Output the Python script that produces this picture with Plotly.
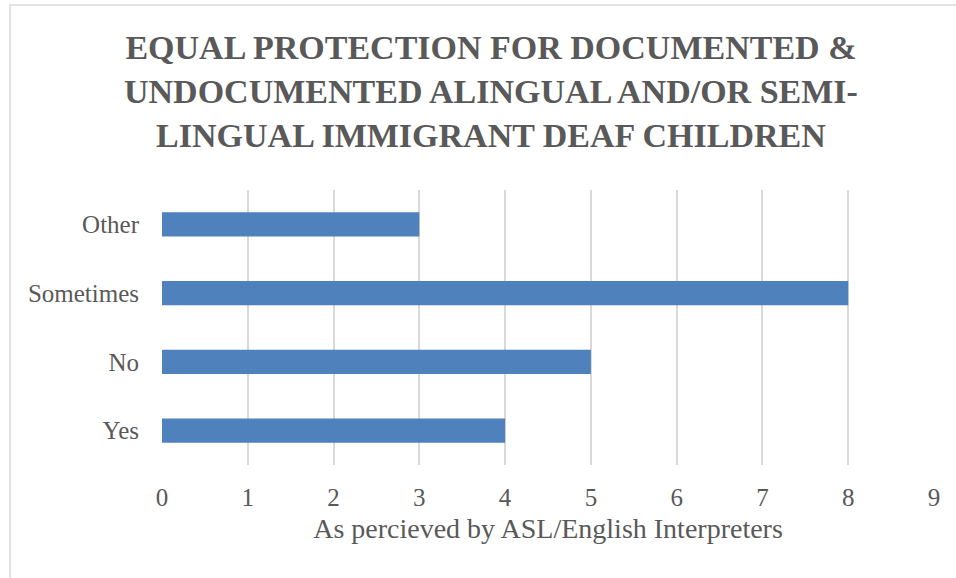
import plotly.graph_objects as go

# Survey responses (counts)
categories = ["Yes", "No", "Sometimes", "Other"]
counts = [4, 5, 8, 3]
x_ticks = [0, 1, 2, 3, 4, 5, 6, 7, 8, 9]

title_lines = [
    "EQUAL PROTECTION FOR DOCUMENTED &",
    "UNDOCUMENTED ALINGUAL AND/OR SEMI-",
    "LINGUAL IMMIGRANT DEAF CHILDREN",
]
x_title = "As percieved by ASL/English Interpreters"

TEXT = "#595959"
FONT = "Liberation Serif"

W, H = 956, 578
L, R, T, B = 162, 22, 190, 113
pw, ph = W - L - R, H - T - B

fig = go.Figure(
    go.Bar(
        x=counts,
        y=categories,
        orientation="h",
        marker=dict(color="#4F81BD", line=dict(width=0)),
        width=0.35,
        hoverinfo="x+y",
    )
)

fig.update_layout(
    width=W,
    height=H,
    margin=dict(l=L, r=R, t=T, b=B),
    paper_bgcolor="white",
    plot_bgcolor="white",
    showlegend=False,
    font=dict(family=FONT, color=TEXT),
    xaxis=dict(
        range=[0, 9],
        tickvals=x_ticks,
        showgrid=True,
        gridcolor="#D9D9D9",
        gridwidth=1.5,
        zeroline=False,
        showline=False,
        ticks="",
        ticklabelstandoff=15,
        tickfont=dict(family=FONT, size=25, color=TEXT),
        title=dict(text=x_title, font=dict(family=FONT, size=28, color=TEXT), standoff=8),
        fixedrange=True,
    ),
    yaxis=dict(
        range=[-0.5, 3.5],
        showgrid=False,
        zeroline=False,
        showline=False,
        ticks="",
        ticklabelstandoff=22,
        tickfont=dict(family=FONT, size=25, color=TEXT),
        fixedrange=True,
    ),
)

# Chart title
fig.add_annotation(
    text="<br>".join(f"<b>{s}</b>" for s in title_lines),
    xref="paper",
    yref="paper",
    x=(491 - L) / pw,
    y=1 + (T - 91) / ph,
    xanchor="center",
    yanchor="middle",
    showarrow=False,
    align="center",
    font=dict(family=FONT, size=34, color=TEXT),
)

# Chart frame
fig.add_shape(
    type="rect",
    xref="paper",
    yref="paper",
    x0=(10 - L) / pw,
    x1=1.2,
    y0=-0.6,
    y1=1 + (T - 5) / ph,
    line=dict(color="#D9D9D9", width=1.5),
    fillcolor="rgba(0,0,0,0)",
    layer="below",
)

fig.write_html("out.html")
